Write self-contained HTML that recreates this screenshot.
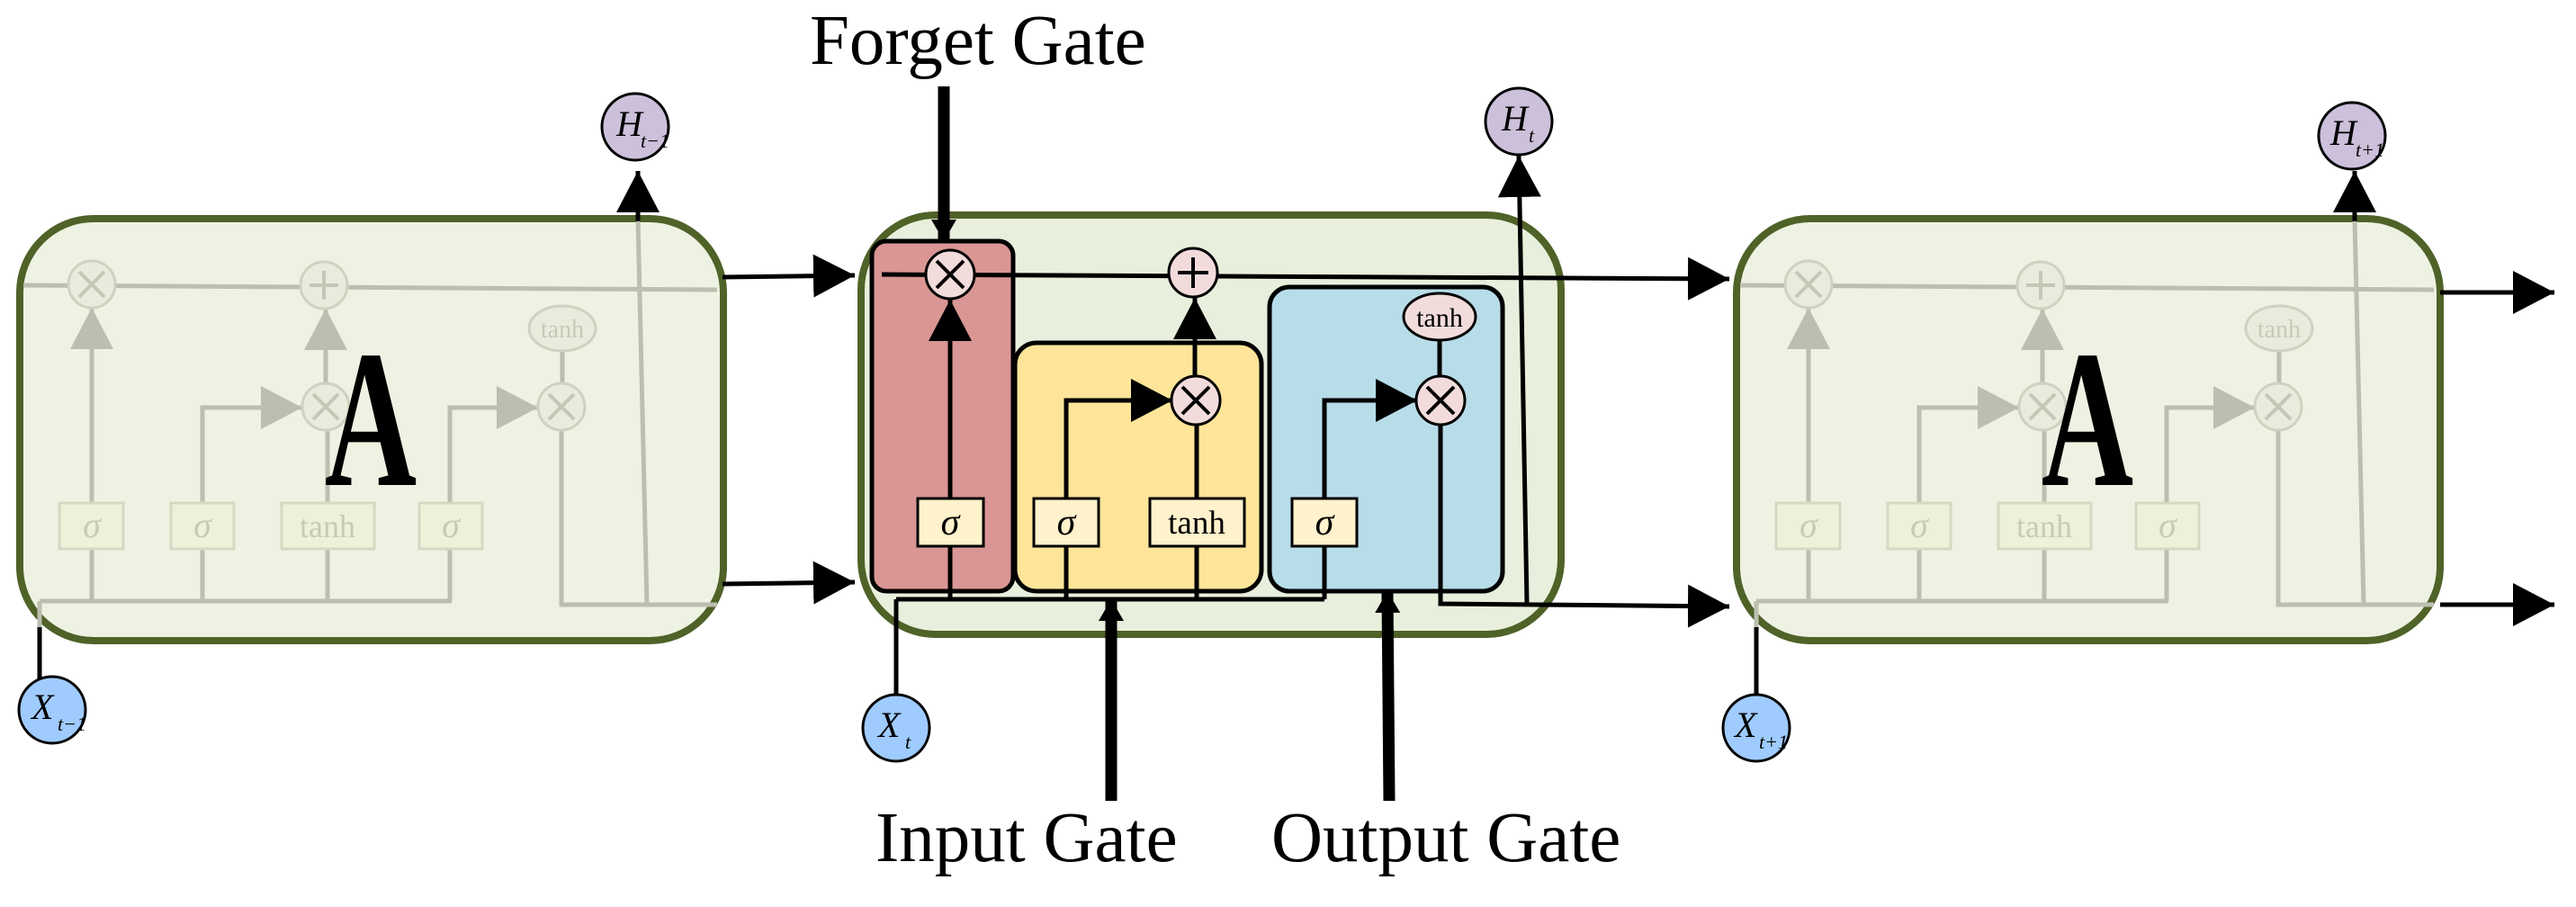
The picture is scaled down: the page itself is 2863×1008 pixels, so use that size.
<!DOCTYPE html>
<html><head><meta charset="utf-8"><style>
html,body{margin:0;padding:0;background:#fff}
svg{display:block}
text{font-family:"Liberation Serif",serif}
</style></head><body>
<svg width="2863" height="1008" viewBox="0 0 2863 1008" xmlns="http://www.w3.org/2000/svg">
<defs>
<marker id="ab" markerUnits="userSpaceOnUse" markerWidth="46" markerHeight="48" refX="46" refY="24" orient="auto"><path d="M0,0 L46,24 L0,48 z" fill="#000"/></marker>
<marker id="ag" markerUnits="userSpaceOnUse" markerWidth="46" markerHeight="48" refX="46" refY="24" orient="auto"><path d="M0,0 L46,24 L0,48 z" fill="#bcbfb0"/></marker>
<marker id="at" markerUnits="userSpaceOnUse" markerWidth="24" markerHeight="28" refX="22" refY="14" orient="auto"><path d="M0,0 L24,14 L0,28 z" fill="#000"/></marker>
<g id="side">
  <rect x="1930" y="243" width="782" height="469" rx="82" fill="#eef2e2" stroke="#4f6228" stroke-width="8"/>
  <g stroke="#bcbfb0" stroke-width="5" fill="none">
    <path d="M1934 317 L2705 322"/>
    <path d="M2010 668 V610"/><path d="M2010 559 V342" marker-end="url(#ag)"/>
    <path d="M2133 668 V610"/><path d="M2133 559 V453 H2244" marker-end="url(#ag)"/>
    <path d="M2272 668 V610"/><path d="M2272 559 V478"/><path d="M2270 426 V343" marker-end="url(#ag)"/>
    <path d="M2408 668 V610"/><path d="M2408 559 V453 H2506" marker-end="url(#ag)"/>
    <path d="M2532 478 V672 H2705"/><path d="M2533 390 V426"/>
    <path d="M2617 243 L2627 672"/>
    <path d="M1952 668 H2410"/><path d="M1952 668 V700"/>
  </g>
  <g fill="#e9ebdd" stroke="#cfd2c0" stroke-width="3">
    <ellipse cx="2010" cy="316" rx="26" ry="26"/>
    <ellipse cx="2268" cy="317" rx="26" ry="26"/>
    <ellipse cx="2270" cy="452" rx="26" ry="26"/>
    <ellipse cx="2532" cy="452" rx="26" ry="26"/>
    <ellipse cx="2533" cy="365" rx="37" ry="25"/>
  </g>
  <g stroke="#c4c7b6" stroke-width="4">
    <path d="M1996 302 L2024 330 M2024 302 L1996 330"/>
    <path d="M2268 301 V333 M2252 317 H2284"/>
    <path d="M2256 438 L2284 466 M2284 438 L2256 466"/>
    <path d="M2518 438 L2546 466 M2546 438 L2518 466"/>
  </g>
  <g fill="#eef0da" stroke="#d6d8c2" stroke-width="3">
    <rect x="1974" y="559" width="71" height="51"/>
    <rect x="2098" y="559" width="70" height="51"/>
    <rect x="2221" y="559" width="103" height="51"/>
    <rect x="2374" y="559" width="70" height="51"/>
  </g>
  <g fill="#c8cab6" text-anchor="middle">
    <text x="2010" y="597" font-size="40" font-style="italic">σ</text>
    <text x="2133" y="597" font-size="40" font-style="italic">σ</text>
    <text x="2272" y="597" font-size="36">tanh</text>
    <text x="2409" y="597" font-size="40" font-style="italic">σ</text>
    <text x="2533" y="375" font-size="28">tanh</text>
  </g>
  <g stroke="#000" stroke-width="5" fill="none">
    <path d="M2617 246 V190" marker-end="url(#ab)"/>
    <path d="M1952 697 V772"/>
  </g>
  <text x="0" y="0" font-size="218" font-weight="bold" text-anchor="middle" transform="translate(2320 539) scale(0.65 1)">A</text>
</g>
</defs>

<use href="#side"/>
<use href="#side" transform="translate(-1908 0)"/>

<g stroke="#000" stroke-width="5" fill="none">
  <path d="M2712 325 H2839" marker-end="url(#ab)"/>
  <path d="M2712 672 H2839" marker-end="url(#ab)"/>
  <path d="M803 308 L950 306" marker-end="url(#ab)"/>
  <path d="M803 649 L950 647" marker-end="url(#ab)"/>
</g>

<!-- middle cell -->
<rect x="957" y="239" width="778" height="466" rx="83" fill="#e8efdc" stroke="#4f6228" stroke-width="8"/>
<rect x="969" y="268" width="157" height="389" rx="16" fill="#d99694" stroke="#000" stroke-width="5"/>
<rect x="1128" y="381" width="274" height="276" rx="24" fill="#fee59a" stroke="#000" stroke-width="5"/>
<rect x="1411" y="319" width="259" height="338" rx="22" fill="#b7dde8" stroke="#000" stroke-width="5"/>

<g stroke="#000" stroke-width="5" fill="none">
  <path d="M980 305 L1922 310" marker-end="url(#ab)"/>
  <path d="M1056 666 V607"/><path d="M1056 554 V333" marker-end="url(#ab)"/>
  <path d="M1185 666 V607"/><path d="M1185 554 V445 H1303" marker-end="url(#ab)"/>
  <path d="M1330 666 V607"/><path d="M1330 554 V472"/><path d="M1328 418 V331" marker-end="url(#ab)"/>
  <path d="M1472 666 V607"/><path d="M1472 554 V445 H1575" marker-end="url(#ab)"/>
  <path d="M1601 472 V671 L1922 674" marker-end="url(#ab)"/>
  <path d="M1600 378 V418"/>
  <path d="M996 666 H1472"/><path d="M996 666 V771"/>
  <path d="M1697 671 L1688 173" marker-end="url(#ab)"/>
</g>
<g fill="#f2dcdb" stroke="#000" stroke-width="3">
  <circle cx="1056" cy="305" r="27"/>
  <circle cx="1326" cy="303" r="27"/>
  <circle cx="1329" cy="445" r="27"/>
  <circle cx="1601" cy="445" r="27"/>
  <ellipse cx="1600" cy="352" rx="40" ry="26"/>
</g>
<g stroke="#000" stroke-width="4">
  <path d="M1041 290 L1071 320 M1071 290 L1041 320"/>
  <path d="M1326 286 V320 M1309 303 H1343"/>
  <path d="M1314 430 L1344 460 M1344 430 L1314 460"/>
  <path d="M1586 430 L1616 460 M1616 430 L1586 460"/>
</g>
<g fill="#fff2cc" stroke="#000" stroke-width="3">
  <rect x="1020" y="554" width="73" height="53"/>
  <rect x="1149" y="554" width="72" height="53"/>
  <rect x="1278" y="554" width="105" height="53"/>
  <rect x="1436" y="554" width="72" height="53"/>
</g>
<g fill="#000" text-anchor="middle">
  <text x="1056" y="594" font-size="42" font-style="italic">σ</text>
  <text x="1185" y="594" font-size="42" font-style="italic">σ</text>
  <text x="1330" y="593" font-size="37">tanh</text>
  <text x="1472" y="594" font-size="42" font-style="italic">σ</text>
  <text x="1600" y="363" font-size="30">tanh</text>
</g>

<g stroke="#000" stroke-width="13" fill="none">
  <path d="M1049 96 V266" marker-end="url(#at)"/>
  <path d="M1235 890 V668" marker-end="url(#at)"/>
  <path d="M1544 890 L1542 659" marker-end="url(#at)"/>
</g>
<g font-size="79" fill="#000">
  <text x="900" y="71">Forget Gate</text>
  <text x="973" y="957">Input Gate</text>
  <text x="1413" y="957">Output Gate</text>
</g>

<g fill="#ccc0da" stroke="#000" stroke-width="3">
  <circle cx="706" cy="141" r="37"/>
  <circle cx="1688" cy="135" r="37"/>
  <circle cx="2614" cy="151" r="37"/>
</g>
<g fill="#9fcbff" stroke="#000" stroke-width="3">
  <circle cx="58" cy="789" r="37"/>
  <circle cx="996" cy="809" r="37"/>
  <circle cx="1952" cy="809" r="37"/>
</g>
<g fill="#000" font-style="italic">
  <text x="685" y="151" font-size="40">H</text><text x="712" y="164" font-size="22">t−1</text>
  <text x="1669" y="145" font-size="40">H</text><text x="1699" y="158" font-size="22">t</text>
  <text x="2590" y="161" font-size="40">H</text><text x="2618" y="174" font-size="22">t+1</text>
  <text x="35" y="799" font-size="40">X</text><text x="64" y="812" font-size="22">t−1</text>
  <text x="976" y="819" font-size="40">X</text><text x="1006" y="832" font-size="22">t</text>
  <text x="1928" y="819" font-size="40">X</text><text x="1955" y="832" font-size="22">t+1</text>
</g>
</svg>
</body></html>
